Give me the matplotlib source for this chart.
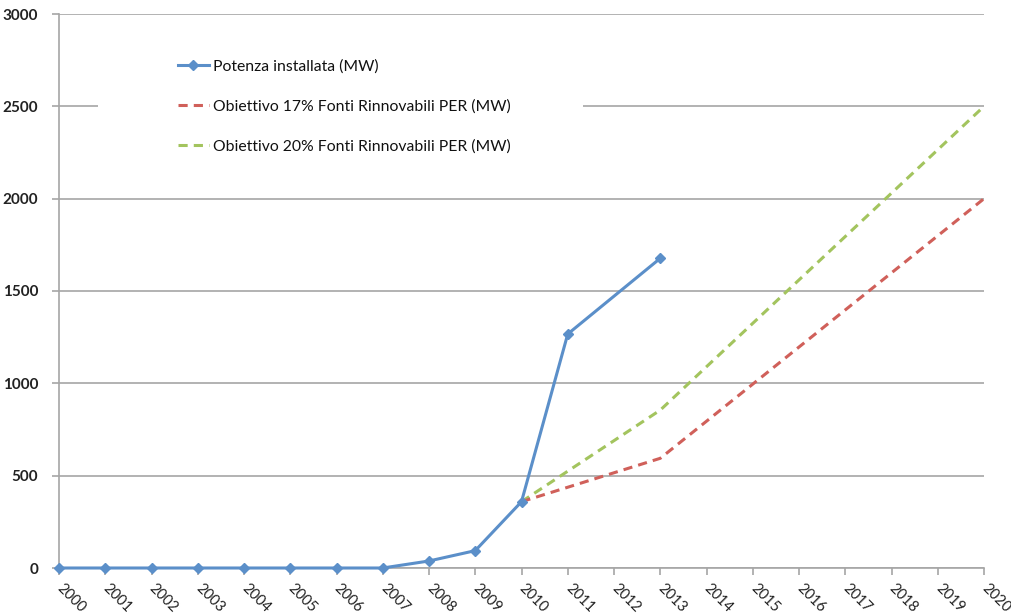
import matplotlib
matplotlib.use("Agg")
import matplotlib.pyplot as plt
import numpy as np
from matplotlib.patches import Rectangle

plt.rcParams['font.family'] = ['Lato', 'DejaVu Sans']

years = [str(y) for y in range(2000, 2021)]
installed_years = [2000, 2001, 2002, 2003, 2004, 2005, 2006, 2007, 2008, 2009, 2010, 2011, 2013]
installed_mw = [0, 0, 0, 0, 0, 0, 0, 0, 38, 94, 359, 1267, 1677]
target17_years = [2010, 2013, 2020]
target17_mw = [359, 594, 2000]
target20_years = [2010, 2013, 2020]
target20_mw = [359, 855, 2500]
y_ticks = [0, 500, 1000, 1500, 2000, 2500, 3000]

label_installed = "Potenza installata (MW)"
label_17 = "Obiettivo 17% Fonti Rinnovabili PER (MW)"
label_20 = "Obiettivo 20% Fonti Rinnovabili PER (MW)"

fig = plt.figure(figsize=(10.11, 6.16), dpi=100)
ax = fig.add_axes([59/1011, 1-568/616, 925/1011, 554/616])

first = int(years[0])
blue = '#5B8FC9'
red = '#D0605A'
green = '#A3C45E'

ax.plot([y - first for y in target20_years], target20_mw, color=green, lw=2.2,
        ls=(0, (3, 2)), label=label_20, zorder=4)
ax.plot([y - first for y in target17_years], target17_mw, color=red, lw=2.2,
        ls=(0, (3, 2)), label=label_17, zorder=4)
ax.plot([y - first for y in installed_years], installed_mw, color=blue, lw=2.2,
        marker='D', ms=5.5, label=label_installed, zorder=5, clip_on=False)

ax.set_xlim(0, len(years) - 1)
ax.set_ylim(0, 3000)
ax.set_yticks(y_ticks)
ax.set_yticklabels([str(v) for v in y_ticks], fontsize=11, fontweight='bold', color='#222222')
ax.set_xticks(range(len(years)))
ax.set_xticklabels(years, rotation=-45, ha='left', va='center', rotation_mode='anchor',
                   fontsize=10.5, color='#222222')
for lbl in ax.get_xticklabels():
    lbl.set_transform(lbl.get_transform() + matplotlib.transforms.ScaledTranslation(-5/100, 0, fig.dpi_scale_trans))

ax.yaxis.grid(True, color='#A6A6A6', lw=1.2, zorder=0)
ax.set_axisbelow(True)
for s in ['top', 'right']:
    ax.spines[s].set_visible(False)
ax.spines['left'].set_color('#A6A6A6')
ax.spines['bottom'].set_color('#A6A6A6')
ax.spines['left'].set_linewidth(1.2)
ax.spines['bottom'].set_linewidth(1.2)
ax.tick_params(axis='both', colors='#A6A6A6', length=5, width=1.2, labelcolor='#222222')
ax.tick_params(axis='y', pad=10)
ax.tick_params(axis='x', pad=8)

ax.add_patch(Rectangle(((98-59)/925, (568-170)/554), (583-98)/925, 140/554,
                       transform=ax.transAxes, facecolor='white', edgecolor='none', zorder=1))

h, l = ax.get_legend_handles_labels()
order = [2, 1, 0]
leg = ax.legend([h[i] for i in order], [l[i] for i in order], loc='upper left',
                bbox_to_anchor=((178-59)/925, (568-59)/554), frameon=False, fontsize=11.3,
                handlelength=1.95, handletextpad=0.3, labelspacing=1.65, borderpad=0,
                borderaxespad=0)
for t in leg.get_texts():
    t.set_color('#111111')

fig.savefig('out.png', dpi=100)
